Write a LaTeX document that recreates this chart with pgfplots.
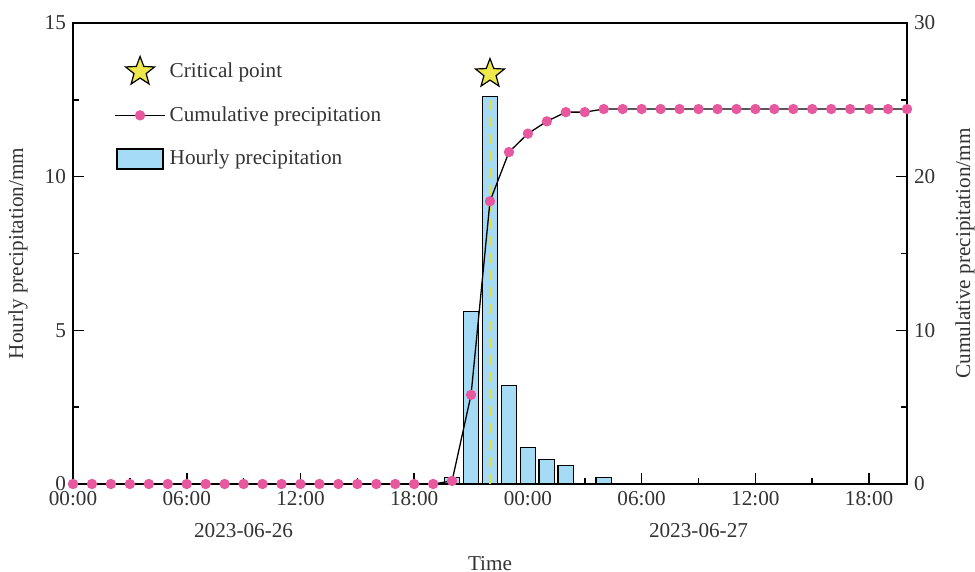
\documentclass[border=0pt]{standalone}
\usepackage{fontspec}
\setmainfont{Liberation Serif}
\usepackage{pgfplots}
\pgfplotsset{compat=1.18}

\definecolor{barblue}{HTML}{A6DBF5}
\definecolor{dotpink}{HTML}{E8589E}
\definecolor{staryellow}{HTML}{EEE84C}
\definecolor{dashyellow}{HTML}{E6E03A}
\definecolor{txt}{HTML}{333333}

% filled five-pointed star
\pgfdeclareplotmark{fstar}{%
  \pgfpathmoveto{\pgfpointpolar{90}{\pgfplotmarksize}}%
  \pgfpathlineto{\pgfpointpolar{126}{0.42\pgfplotmarksize}}%
  \pgfpathlineto{\pgfpointpolar{162}{\pgfplotmarksize}}%
  \pgfpathlineto{\pgfpointpolar{198}{0.42\pgfplotmarksize}}%
  \pgfpathlineto{\pgfpointpolar{234}{\pgfplotmarksize}}%
  \pgfpathlineto{\pgfpointpolar{270}{0.42\pgfplotmarksize}}%
  \pgfpathlineto{\pgfpointpolar{306}{\pgfplotmarksize}}%
  \pgfpathlineto{\pgfpointpolar{342}{0.42\pgfplotmarksize}}%
  \pgfpathlineto{\pgfpointpolar{18}{\pgfplotmarksize}}%
  \pgfpathlineto{\pgfpointpolar{54}{0.42\pgfplotmarksize}}%
  \pgfpathclose
  \pgfusepathqfillstroke
}

\pgfplotstableread{
h   p
20  0.2
21  5.6
22  12.6
23  3.2
24  1.2
25  0.8
26  0.6
28  0.2
}\hourly

\pgfplotstableread{
h   c
0   0
1   0
2   0
3   0
4   0
5   0
6   0
7   0
8   0
9   0
10  0
11  0
12  0
13  0
14  0
15  0
16  0
17  0
18  0
19  0
20  0.2
21  5.8
22  18.4
23  21.6
24  22.8
25  23.6
26  24.2
27  24.2
28  24.4
29  24.4
30  24.4
31  24.4
32  24.4
33  24.4
34  24.4
35  24.4
36  24.4
37  24.4
38  24.4
39  24.4
40  24.4
41  24.4
42  24.4
43  24.4
44  24.4
}\cumul

\newcommand{\lblfont}{\fontsize{10.6}{12.5}\selectfont}

\pgfplotsset{
  base/.style={
    width=417pt, height=230.5pt, scale only axis,
    xmin=0, xmax=44,
    tick align=inside,
    major tick length=5.5pt, minor tick length=3pt,
    axis line style={line width=0.9pt, black},
    every tick/.style={line width=0.8pt, black},
    tick label style={font=\lblfont, text=txt},
    label style={font=\lblfont, text=txt},
    /pgf/number format/assume math mode=true,
  },
}

\begin{document}
\begin{tikzpicture}
\path[use as bounding box] (-36.5pt,-44pt) rectangle (451pt,242pt);
\begin{axis}[
  base,
  ymin=0, ymax=15,
  ytick={0,5,10,15},
  minor y tick num=1,
  xtick={0,6,...,42},
  xticklabels={00:00,06:00,12:00,18:00,00:00,06:00,12:00,18:00},
  minor x tick num=1,
  xtick pos=left, ytick pos=left,
  ylabel={Hourly precipitation/mm},
  ylabel style={at={(axis description cs:-0.066,0.5)}, anchor=center},
  xlabel={Time},
  xlabel style={at={(axis description cs:0.5,-0.172)}, anchor=center},
  clip=false,
]
\addplot[ybar, bar width=0.82, fill=barblue, draw=black, line width=0.6pt]
  table[x=h, y=p] {\hourly};
\addplot[dashyellow, line width=0.7pt, dash pattern=on 5pt off 3.5pt]
  coordinates {(22,0) (22,12.6)};
\addplot[only marks, mark=fstar, mark size=7.6pt, draw=black, fill=staryellow, line width=0.6pt]
  coordinates {(22,13.35)};
\node[font=\lblfont, text=txt] at (axis cs:9,0) [yshift=-23.5pt] {2023-06-26};
\node[font=\lblfont, text=txt] at (axis cs:33,0) [yshift=-23.5pt] {2023-06-27};
\end{axis}

\begin{axis}[
  base,
  ymin=0, ymax=30,
  ytick={0,10,20,30},
  minor y tick num=1,
  axis x line=none,
  axis y line*=right,
  ylabel={Cumulative precipitation/mm},
  ylabel style={at={(axis description cs:1.0695,0.5)}, anchor=center},
  legend image code/.code={%
    \draw[mark repeat=2, mark phase=2, #1] plot coordinates {(0pt,0pt) (12.5pt,0pt) (25pt,0pt)};},
  legend style={at={(axis description cs:0.042,0.937)}, anchor=north west,
    draw=none, fill=none, font=\lblfont, text=txt,
    row sep=9pt, /tikz/every even column/.append style={column sep=6.5pt}},
  legend cell align=left,
]
\addlegendimage{only marks, mark=fstar, mark size=7.6pt, draw=black, fill=staryellow, line width=0.6pt}
\addlegendentry{Critical point}
\addplot[black, line width=0.65pt, mark=*, mark size=2.25pt,
  mark options={fill=dotpink, draw=dotpink}]
  table[x=h, y=c] {\cumul};
\addlegendentry{Cumulative precipitation}
\addlegendimage{legend image code/.code={%
    \draw[fill=barblue, draw=black, line width=0.6pt] (1pt,-5pt) rectangle (24pt,5pt);}}
\addlegendentry{Hourly precipitation}
\end{axis}
\end{tikzpicture}
\end{document}
